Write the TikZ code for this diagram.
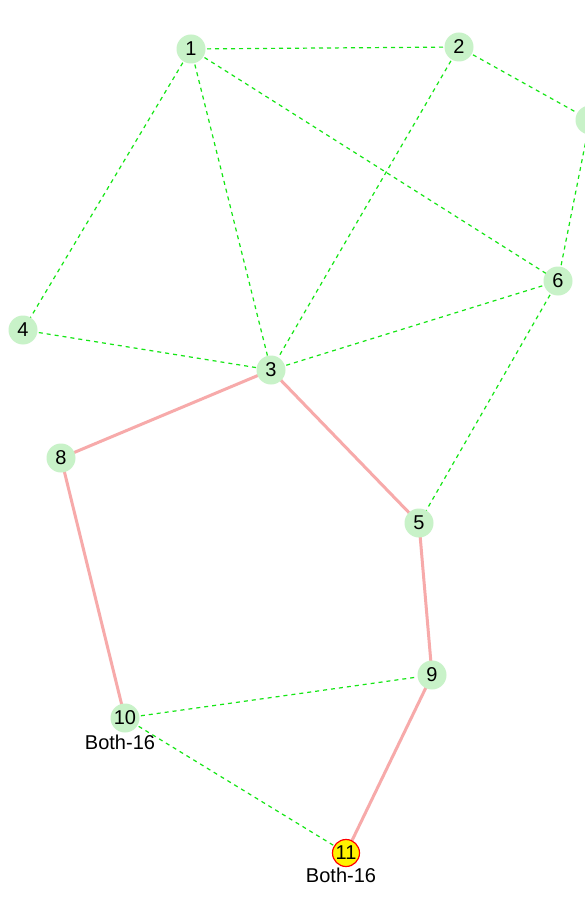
\documentclass[tikz,border=0pt]{standalone}
\usepackage{fontspec}
\setmainfont{Liberation Sans}
\begin{document}
\begin{tikzpicture}[x=1pt,y=-1pt,
  vtx/.style={circle,fill=nodegreen,minimum size=29pt,inner sep=0pt,font=\fontsize{20}{22}\selectfont},
  hot/.style={vtx,fill=yellow,draw=red,line width=1.2pt,minimum size=27pt},
  lbl/.style={font=\fontsize{20}{22}\selectfont,inner sep=0pt},
  gedge/.style={draw=edgegreen,line width=1.2pt,dash pattern=on 4pt off 4pt},
  pedge/.style={draw=edgepink,line width=3pt}]
\definecolor{nodegreen}{RGB}{200,242,200}
\definecolor{edgegreen}{RGB}{20,230,20}
\definecolor{edgepink}{RGB}{247,170,170}
\useasboundingbox (0,0) rectangle (584,901);
\fill[white] (0,0) rectangle (584,901);
\coordinate (c1) at (191,49);
\coordinate (c2) at (459,47);
\coordinate (c7) at (590,120);
\coordinate (c6) at (558,281);
\coordinate (c4) at (23,330);
\coordinate (c3) at (271,370);
\coordinate (c8) at (61,458);
\coordinate (c5) at (419,523);
\coordinate (c9) at (432,675);
\coordinate (c10) at (125,718);
\coordinate (c11) at (346,853);
% edges
\draw[gedge] (c1) -- (c2);
\draw[gedge] (c1) -- (c4);
\draw[gedge] (c1) -- (c3);
\draw[gedge] (c1) -- (c6);
\draw[gedge] (c2) -- (c3);
\draw[gedge] (c2) -- (c7);
\draw[gedge] (c7) -- (c6);
\draw[gedge] (c4) -- (c3);
\draw[gedge] (c3) -- (c6);
\draw[gedge] (c6) -- (c5);
\draw[gedge] (c10) -- (c9);
\draw[gedge] (c10) -- (c11);
\draw[pedge] (c3) -- (c8);
\draw[pedge] (c3) -- (c5);
\draw[pedge] (c8) -- (c10);
\draw[pedge] (c5) -- (c9);
\draw[pedge] (c9) -- (c11);
% nodes
\node[vtx] (n1) at (c1) {1};
\node[vtx] (n2) at (c2) {2};
\node[vtx] (n7) at (c7) {};
\node[vtx] (n6) at (c6) {6};
\node[vtx] (n4) at (c4) {4};
\node[vtx] (n3) at (c3) {3};
\node[vtx] (n8) at (c8) {8};
\node[vtx] (n5) at (c5) {5};
\node[vtx] (n9) at (c9) {9};
\node[vtx] (n10) at (c10) {10};
\node[hot] (n11) at (c11) {11};
\node[lbl] (l10) at (120,742) {Both-16};
\node[lbl] (l11) at (341,875) {Both-16};
\end{tikzpicture}
\end{document}
